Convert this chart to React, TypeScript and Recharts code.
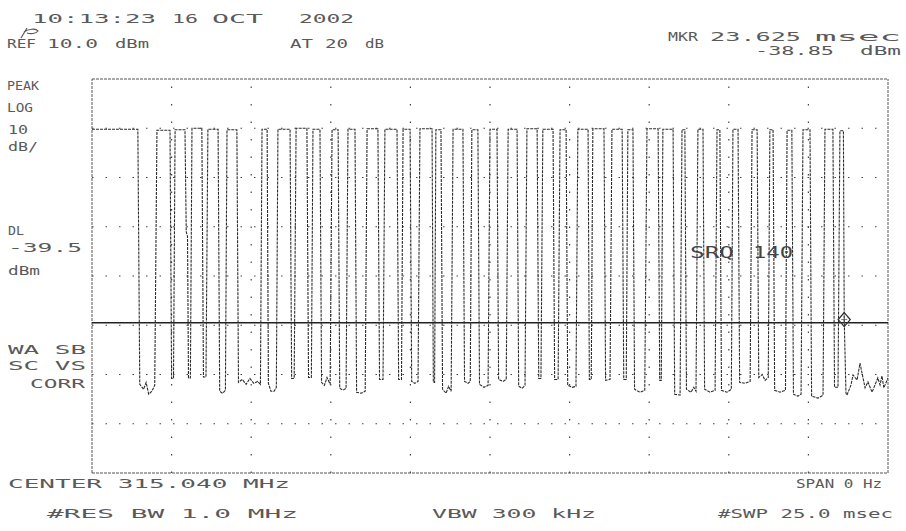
import React from 'react';
import { LineChart, Line, XAxis, YAxis, ReferenceLine, ReferenceDot } from 'recharts';

// Sweep time (ms) and detected level (dBm)
const timeMs = [
  0, 1.44, 1.5, 1.62, 1.7, 1.78, 1.88, 1.97, 2.04, 2.45, 2.5, 2.56, 2.61, 2.92, 2.96, 3.0, 3.03, 3.09,
  3.14, 3.45, 3.5, 3.58, 3.64, 3.96, 4.01, 4.1, 4.19, 4.24, 4.55, 4.6, 4.72, 4.84, 4.96, 5.08, 5.2, 5.29,
  5.34, 5.5, 5.54, 5.62, 5.72, 5.79, 5.84, 6.22, 6.27, 6.35, 6.41, 6.75, 6.8, 6.89, 6.94, 7.16, 7.21, 7.3,
  7.38, 7.48, 7.54, 7.73, 7.78, 7.88, 7.98, 8.04, 8.26, 8.31, 8.45, 8.58, 8.64, 8.98, 9.03, 9.14, 9.2, 9.58,
  9.63, 9.72, 9.77, 9.99, 10.04, 10.14, 10.24, 10.3, 10.68, 10.72, 10.76, 10.8, 10.96, 11.01, 11.12, 11.2,
  11.28, 11.34, 11.65, 11.7, 11.81, 11.88, 11.93, 12.12, 12.17, 12.31, 12.44, 12.5, 12.72, 12.77, 12.91,
  13.01, 13.07, 13.35, 13.4, 13.51, 13.6, 13.66, 13.98, 14.03, 14.1, 14.16, 14.48, 14.53, 14.64, 14.7,
  14.89, 14.94, 15.08, 15.2, 15.26, 15.58, 15.62, 15.68, 15.73, 16.08, 16.13, 16.27, 16.33, 16.65, 16.7,
  16.78, 16.83, 16.99, 17.04, 17.21, 17.36, 17.43, 17.78, 17.83, 17.88, 17.93, 18.25, 18.3, 18.47, 18.53,
  18.62, 18.67, 18.81, 18.9, 18.97, 19.03, 19.19, 19.24, 19.41, 19.57, 19.63, 19.72, 19.77, 19.94, 20.08,
  20.13, 20.29, 20.34, 20.51, 20.67, 20.73, 20.89, 20.94, 21.05, 21.14, 21.24, 21.29, 21.39, 21.44, 21.61,
  21.78, 21.83, 21.98, 22.03, 22.17, 22.27, 22.33, 22.55, 22.6, 22.8, 22.96, 23.02, 23.27, 23.32, 23.43,
  23.49, 23.6, 23.625, 23.68, 23.71, 23.84, 23.9, 24.03, 24.12, 24.28, 24.37, 24.5, 24.68, 24.75, 24.81,
  24.87, 25,
];
const levelDbm = [
  -0.2, -0.2, -52, -53, -51.6, -54, -53.4, -52.2, -0.4, -0.4, -50.8, -50.8, -0.3, -0.3, -21, -22, -50.7, -50.7,
  0, 0, -50.5, -50.5, -0.2, -0.2, -53.4, -53.8, -53.2, -0.3, -0.3, -51.6, -51, -52, -50.8, -51.8, -51.4, -52,
  -0.2, -0.2, -51.8, -53.4, -53.4, -52.6, -0.2, -0.2, -50.8, -50.8, 0, 0, -50.6, -50.6, -0.2, -0.2, -51.6, -52.2,
  -50.6, -52, -0.3, -0.3, -52.8, -53.2, -52.8, -0.2, -0.2, -53.6, -53.8, -53.4, -0.1, -0.1, -51, -51, -0.2, -0.2,
  -51, -51, -0.2, -0.2, -51.4, -51.8, -51.4, -0.1, -0.1, -51.6, -51.6, -0.3, -0.3, -53, -53.8, -52.4,
  -53.4, -0.2, -0.2, -51.4, -51.8, -51.4, -0.3, -0.3, -52, -52.6, -52.2, -0.2, -0.2, -51, -51.4,
  -51, -0.2, -0.2, -52.4, -52.8, -52.2, -0.1, -0.1, -50.8, -50.8, -0.2, -0.2, -51, -51, -0.3,
  -0.3, -52.2, -52.6, -52.4, -0.2, -0.2, -51, -51, -0.1, -0.1, -51.2, -51, -0.2, -0.2, -51,
  -51, -0.3, -0.3, -53, -53.6, -53.2, -0.1, -0.1, -51.2, -51.2, -0.2, -0.2, -54, -54.2, -0.3,
  -0.3, -53, -53.6, -52.6, -53.4, -0.2, -0.2, -53, -53.6, -53.2, -0.3, -0.3, -53.2, -53.6, -53,
  -0.2, -0.2, -51.6, -51.8, -51.4, -0.3, -0.3, -50.6, -50, -51.2, -50.6, -0.3, -0.3, -53.2, -53.6,
  -53.2, -0.4, -0.4, -54, -54.4, -54, -0.3, -0.3, -54.4, -54.8, -54.2, -0.2, -0.2, -52.6, -52.6,
  -0.5, -0.5, -38.85, -53.8, -54.2, -52.1, -50.1, -51.1, -47.7, -52.7, -51.5, -53.6, -50.7, -52.1, -50.3,
  -52.7, -50.7,
];

const sweepStartMs = 0;
const sweepEndMs = 25;
const refLevelDbm = 10;
const bottomLevelDbm = -70;
const timeGridMs = [2.5, 5, 7.5, 10, 12.5, 15, 17.5, 20, 22.5];
const levelGridDbm = [0, -10, -20, -30, -40, -50, -60];
const displayLineDbm = -39.5;
const markerMs = 23.625;
const markerDbm = -38.85;

const data = timeMs.map((t, i) => ({ t, level: levelDbm[i] }));

const FONT = '"DejaVu Sans Mono", "Liberation Mono", monospace';
const INK = '#5a5a5a';

const T = ({ x, y, w, s = 13, fill = INK, children }: any) => (
  <text
    x={x}
    y={y}
    textLength={w}
    lengthAdjust="spacingAndGlyphs"
    fontFamily={FONT}
    fontSize={s}
    fill={fill}
  >
    {children}
  </text>
);

const Diamond = (props: any) => {
  const { cx, cy } = props;
  if (cx == null || cy == null) return null;
  return (
    <g>
      <path
        d={`M${cx},${cy - 7} L${cx + 6},${cy} L${cx},${cy + 7} L${cx - 6},${cy} Z`}
        fill="none"
        stroke="#333"
        strokeWidth={1.3}
      />
      <path d={`M${cx - 3},${cy} L${cx + 3},${cy} M${cx},${cy - 4} L${cx},${cy + 4}`} stroke="#555" strokeWidth={0.8} />
    </g>
  );
};

export default function App() {
  return (
    <div style={{ position: 'absolute', left: 0, top: 0, width: 906, height: 531, background: '#fff' }}>
      <LineChart
        width={906}
        height={531}
        data={data}
        margin={{ top: 79, right: 18, bottom: 58, left: 92 }}
      >
        <XAxis dataKey="t" type="number" domain={[sweepStartMs, sweepEndMs]} hide allowDataOverflow />
        <YAxis type="number" domain={[bottomLevelDbm, refLevelDbm]} hide allowDataOverflow />
        {timeGridMs.map((v) => (
          <ReferenceLine key={'vx' + v} x={v} stroke="#444" strokeWidth={1.2} strokeDasharray="1.5 16" />
        ))}
        {levelGridDbm.map((v) => (
          <ReferenceLine key={'hy' + v} y={v} stroke="#444" strokeWidth={1.2} strokeDasharray="1.5 12" />
        ))}
        <ReferenceLine x={sweepStartMs} stroke="#555" strokeWidth={1} strokeDasharray="3 1" />
        <ReferenceLine x={sweepEndMs} stroke="#555" strokeWidth={1} strokeDasharray="3 1" />
        <ReferenceLine y={refLevelDbm} stroke="#555" strokeWidth={1} strokeDasharray="3 1" />
        <ReferenceLine y={bottomLevelDbm} stroke="#555" strokeWidth={1} strokeDasharray="3 1" />
        <ReferenceLine y={displayLineDbm} stroke="#222" strokeWidth={1.6} />
        <Line
          dataKey="level"
          type="linear"
          dot={false}
          stroke="#2c2c2c"
          strokeWidth={1.1}
          strokeDasharray="3 1"
          isAnimationActive={false}
        />
        <ReferenceDot x={markerMs} y={markerDbm} shape={Diamond} />
      </LineChart>
      <svg
        width={906}
        height={531}
        style={{ position: 'absolute', left: 0, top: 0, pointerEvents: 'none' }}
      >
        <T x={32} y={23} w={124}>10:13:23</T>
        <T x={172} y={23} w={26}>16</T>
        <T x={212} y={23} w={51}>OCT</T>
        <T x={299} y={23} w={55}>2002</T>
        <path d="M21,38 L27,28 M24,32 C28,29 36,28 38,31 C36,34 30,34 27,33" fill="none" stroke="#555" strokeWidth={1.2} />
        <T x={7} y={48} w={29}>REF</T>
        <T x={47} y={48} w={51}>10.0</T>
        <T x={115} y={48} w={34}>dBm</T>
        <T x={290} y={48} w={23}>AT</T>
        <T x={325} y={48} w={23}>20</T>
        <T x={365} y={48} w={19}>dB</T>
        <T x={668} y={41} w={30}>MKR</T>
        <T x={710} y={41} w={91}>23.625</T>
        <T x={815} y={41} w={86}>msec</T>
        <T x={755} y={55} w={79}>-38.85</T>
        <T x={860} y={55} w={41}>dBm</T>

        <T x={7} y={90} w={32}>PEAK</T>
        <T x={7} y={112} w={26}>LOG</T>
        <T x={8} y={134} w={20}>10</T>
        <T x={8} y={151} w={30}>dB/</T>
        <T x={8} y={235} w={16}>DL</T>
        <T x={8} y={252} w={74}>-39.5</T>
        <T x={8} y={275} w={32}>dBm</T>
        <T x={8} y={354} w={78}>WA SB</T>
        <T x={8} y={370} w={78}>SC VS</T>
        <T x={30} y={388} w={55}>CORR</T>

        <T x={690} y={258} w={44} s={16} fill="#444">SRQ</T>
        <T x={753} y={258} w={40} s={16} fill="#444">140</T>

        <T x={8} y={488} w={282}>CENTER 315.040 MHz</T>
        <T x={796} y={488} w={86}>SPAN 0 Hz</T>
        <T x={47} y={518} w={251}>#RES BW 1.0 MHz</T>
        <T x={432} y={518} w={164}>VBW 300 kHz</T>
        <T x={718} y={518} w={175}>#SWP 25.0 msec</T>
      </svg>
    </div>
  );
}
